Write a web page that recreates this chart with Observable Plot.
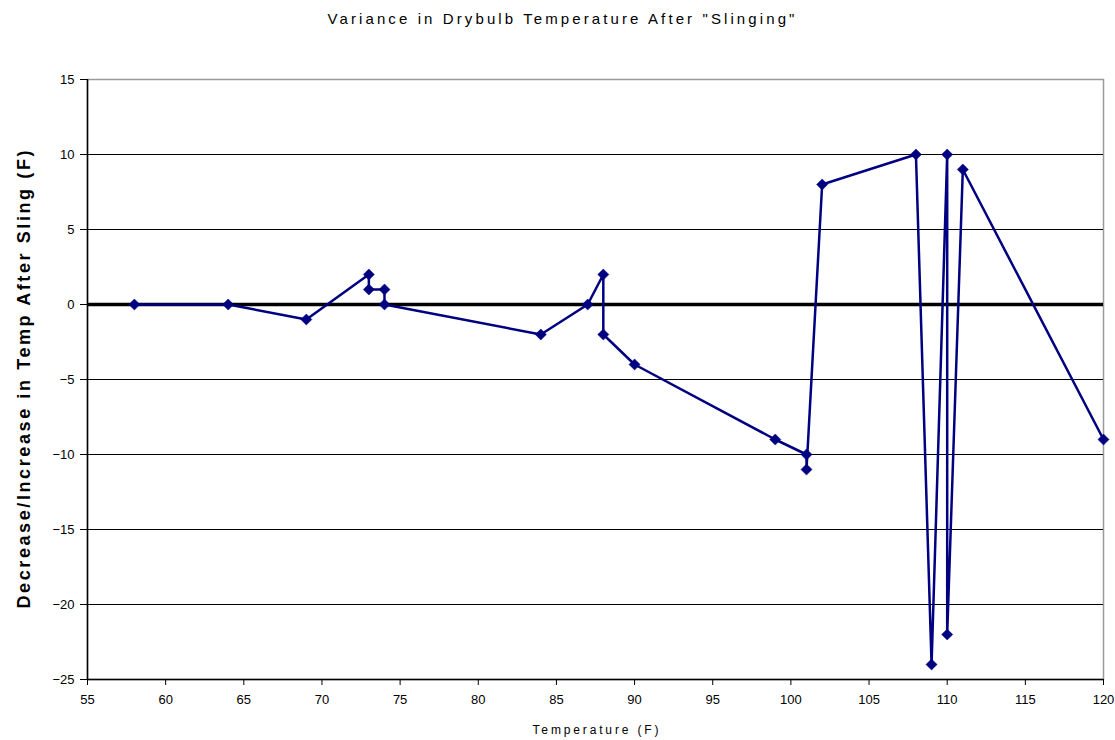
<!DOCTYPE html>
<html>
<head>
<meta charset="utf-8">
<script src="https://cdn.jsdelivr.net/npm/d3@7"></script>
<script src="https://cdn.jsdelivr.net/npm/@observablehq/plot@0.6"></script>
<style>
  html, body { margin: 0; padding: 0; background: #fff; }
  #title { width: 1115px; height: 36px; line-height: 38px; text-align: center; font-family: "Liberation Sans", Arial, sans-serif; font-size: 15px; color: #000; white-space: nowrap; }
  #title span { display: inline-block; position: relative; left: 5px; }
</style>
</head>
<body>
<div id="title"><span>Variance in Drybulb Temperature After "Slinging"</span></div>
<div id="chart"></div>
<script>
const titleText = 'Variance in Drybulb Temperature After "Slinging"';
const xLabel = "Temperature (F)";
const yLabel = "Decrease/Increase in Temp After Sling (F)";

const temperature = [58, 64, 69, 73, 73, 74, 74, 84, 87, 88, 88, 90, 99, 101, 101, 102, 108, 109, 110, 110, 111, 120];
const variance    = [0,  0,  -1,  2,  1,  1,  0, -2,  0,  2, -2, -4, -9, -10, -11,   8,  10, -24,  10, -22,   9,  -9];

const xTicks = [55, 60, 65, 70, 75, 80, 85, 90, 95, 100, 105, 110, 115, 120];
const yTicks = [-25, -20, -15, -10, -5, 0, 5, 10, 15];
const gridY = [-20, -15, -10, -5, 5, 10];

const data = temperature.map((t, i) => ({t, v: variance[i]}));

const chart = Plot.plot({
  width: 1115,
  height: 704,
  marginTop: 43,
  marginBottom: 61,
  marginLeft: 87,
  marginRight: 12,
  style: {fontFamily: "'Liberation Sans', Arial, sans-serif", fontSize: "13px", color: "#000", background: "#fff"},
  x: {domain: [55, 120], label: null},
  y: {domain: [-25, 15], label: null},
  marks: [
    Plot.frame({stroke: "#9a9a9a", strokeWidth: 1.5}),
    Plot.ruleY(gridY, {stroke: "#000", strokeWidth: 1}),
    Plot.ruleY([0], {stroke: "#000", strokeWidth: 3.5}),
    Plot.ruleY([-25], {stroke: "#000", strokeWidth: 1.5}),
    Plot.ruleX([55], {stroke: "#000", strokeWidth: 1.5}),
    Plot.line(data, {x: "t", y: "v", stroke: "#000080", strokeWidth: 2.5}),
    Plot.dot(data, {x: "t", y: "v", symbol: "diamond2", r: 5, fill: "#000080", stroke: "#000080", strokeWidth: 0.5}),
    Plot.axisX({ticks: xTicks, tickSize: 6, tickPadding: 9, stroke: "#000", fill: "#000", label: null}),
    Plot.axisY({ticks: yTicks, tickSize: 7, tickPadding: 6, stroke: "#000", fill: "#000", label: null}),
    Plot.text([yLabel], {frameAnchor: "left", dx: -63, rotate: -90, fontSize: 18, fontWeight: "bold", fill: "#000", textAnchor: "middle", lineAnchor: "middle"}),
    Plot.text([xLabel], {frameAnchor: "bottom", dy: 51, fontSize: 12, fill: "#000", textAnchor: "middle", lineAnchor: "middle"})
  ]
});
document.getElementById("chart").appendChild(chart);

// stretch text lengths to match reference
d3.select(chart).selectAll("text").each(function() {
  const s = this.textContent;
  if (s === yLabel) { this.setAttribute("textLength", 458); this.setAttribute("lengthAdjust", "spacing"); }
  if (s === xLabel) { this.setAttribute("textLength", 126); this.setAttribute("lengthAdjust", "spacing"); }
});

// title letter spacing to match width
const span = document.querySelector("#title span");
const natural = span.getBoundingClientRect().width;
const target = 470;
span.style.letterSpacing = ((target - natural) / titleText.length) + "px";
</script>
</body>
</html>
